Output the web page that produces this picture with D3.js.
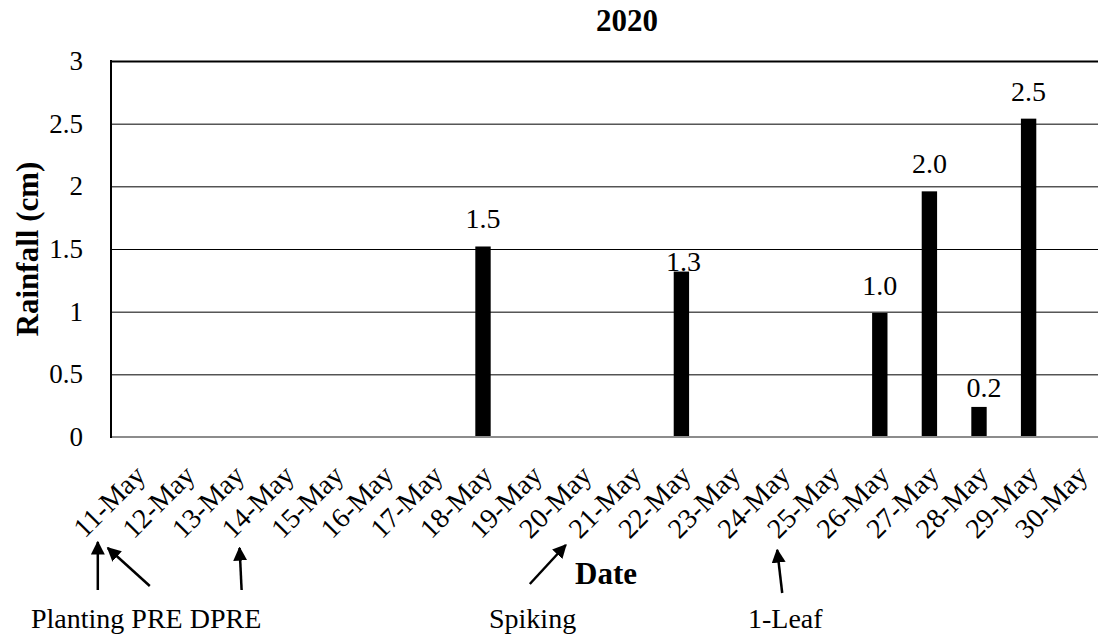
<!DOCTYPE html>
<html>
<head>
<meta charset="utf-8">
<script src="https://cdn.jsdelivr.net/npm/d3@7"></script>
<style>
  html, body { margin: 0; padding: 0; background: #fff; }
  svg { display: block; }
  svg text { font-family: "Liberation Serif", "Times New Roman", serif !important; fill: #000; }
</style>
</head>
<body>
<svg id="chart" width="1098" height="639"></svg>
<script>
// ---------- data ----------
const dates = ['11-May','12-May','13-May','14-May','15-May','16-May','17-May','18-May','19-May','20-May',
               '21-May','22-May','23-May','24-May','25-May','26-May','27-May','28-May','29-May','30-May'];
const rainfall = [0, 0, 0, 0, 0, 0, 0, 1.52, 0, 0,
                  0, 1.32, 0, 0, 0, 0.99, 1.96, 0.24, 2.54, 0];
const yTicks = [0, 0.5, 1, 1.5, 2, 2.5, 3];

const chartTitle = '2020';
const xTitle = 'Date';
const yTitle = 'Rainfall (cm)';

// growth stages marked under the date axis
const stageNames = ['Planting', 'PRE', 'DPRE', 'Spiking', '1-Leaf'];
const stageDates = ['11-May', '11-May', '14-May', '21-May', '25-May'];

// ---------- layout ----------
const W = 1098, H = 639;
const m = { left: 111, top: 61, bottom: 437, right: 1103 };

// hand-placed arrows (offset from tick centre), like the original drawing
const arrowLayout = [
  { tipDx: -38, tipY: 542, tailDx: -38, tailY: 590 },
  { tipDx: -28, tipY: 548, tailDx: 14,  tailY: 586 },
  { tipDx: -45, tipY: 548, tailDx: -43, tailY: 590 },
  { tipDx: -66, tipY: 545, tailDx: -102, tailY: 584 },
  { tipDx: -53, tipY: 550, tailDx: -48, tailY: 593 }
];
// label rows: which stages share a line of text, and where it starts
const labelRows = [
  { stages: [0, 1, 2], x: 31 },
  { stages: [3], x: 489 },
  { stages: [4], x: 748 }
];
// small nudges for data labels that were moved by hand
const labelNudge = { '22-May': { dx: 2, dy: -1 }, '28-May': { dx: 5, dy: -10 } };

const svg = d3.select('#chart');

const x = d3.scaleBand()
  .domain(dates)
  .range([m.left, m.right])
  .paddingInner(0.69)
  .paddingOuter(0.345);

const y = d3.scaleLinear()
  .domain([0, 3])
  .range([m.bottom, m.top]);

// ---------- grid ----------
const grid = svg.append('g')
  .attr('transform', `translate(${m.left},0)`)
  .call(d3.axisLeft(y).tickValues(yTicks.filter(v => v > 0)).tickSize(-(W - m.left)).tickFormat(''));
grid.select('.domain').remove();
grid.selectAll('.tick line')
  .attr('stroke', '#000')
  .attr('stroke-width', d => d === 3 ? 2 : 1);

// ---------- bars ----------
const data = dates.map((d, i) => ({ date: d, value: rainfall[i] }));
const rainy = data.filter(d => d.value > 0);

svg.append('g')
  .selectAll('rect')
  .data(rainy)
  .join('rect')
  .attr('x', d => x(d.date))
  .attr('y', d => y(d.value))
  .attr('width', x.bandwidth())
  .attr('height', d => y(0) - y(d.value))
  .attr('fill', '#000');

svg.append('g')
  .selectAll('text')
  .data(rainy)
  .join('text')
  .attr('x', d => x(d.date) + x.bandwidth() / 2 + (labelNudge[d.date] ? labelNudge[d.date].dx : 0))
  .attr('y', d => y(d.value) + (labelNudge[d.date] ? labelNudge[d.date].dy : -18))
  .attr('text-anchor', 'middle')
  .attr('font-size', 28)
  .text(d => d.value.toFixed(1));

// ---------- axes ----------
svg.append('line')
  .attr('x1', m.left).attr('x2', W)
  .attr('y1', y(0)).attr('y2', y(0))
  .attr('stroke', '#8c8c8c').attr('stroke-width', 2);

svg.append('line')
  .attr('x1', m.left).attr('x2', m.left)
  .attr('y1', m.top - 1).attr('y2', y(0) + 1)
  .attr('stroke', '#000').attr('stroke-width', 2);

const yAxis = svg.append('g')
  .attr('transform', `translate(${m.left},0)`)
  .call(d3.axisLeft(y).tickValues(yTicks).tickSize(0).tickPadding(28).tickFormat(d3.format('')));
yAxis.select('.domain').remove();
yAxis.selectAll('text')
  .attr('font-size', 27);

const xAxis = svg.append('g')
  .attr('transform', `translate(0,${m.bottom})`)
  .call(d3.axisBottom(x).tickSize(0));
xAxis.select('.domain').remove();
xAxis.selectAll('text')
  .attr('font-size', 28)
  .attr('x', 0).attr('y', 0).attr('dy', 0)
  .attr('text-anchor', 'end')
  .attr('transform', 'translate(11,40) rotate(-45)');

// ---------- titles ----------
svg.append('text')
  .attr('x', 627).attr('y', 31)
  .attr('text-anchor', 'middle')
  .attr('font-size', 31).attr('font-weight', 'bold')
  .text(chartTitle);

svg.append('text')
  .attr('x', 606).attr('y', 584)
  .attr('text-anchor', 'middle')
  .attr('font-size', 31).attr('font-weight', 'bold')
  .text(xTitle);

svg.append('text')
  .attr('transform', 'translate(38,249) rotate(-90)')
  .attr('text-anchor', 'middle')
  .attr('font-size', 31).attr('font-weight', 'bold')
  .text(yTitle);

// ---------- stage arrows ----------
svg.append('defs').append('marker')
  .attr('id', 'head')
  .attr('viewBox', '0 0 10 10')
  .attr('refX', 9).attr('refY', 5)
  .attr('markerUnits', 'userSpaceOnUse')
  .attr('markerWidth', 14).attr('markerHeight', 14)
  .attr('orient', 'auto')
  .append('path')
  .attr('d', 'M0,0 L10,5 L0,10 Z')
  .attr('fill', '#000');

const stages = stageNames.map((name, i) => ({ name, date: stageDates[i], ...arrowLayout[i] }));
const cx = d => x(d) + x.bandwidth() / 2;

svg.append('g')
  .selectAll('line')
  .data(stages)
  .join('line')
  .attr('x1', d => cx(d.date) + d.tailDx)
  .attr('y1', d => d.tailY)
  .attr('x2', d => cx(d.date) + d.tipDx)
  .attr('y2', d => d.tipY)
  .attr('stroke', '#000')
  .attr('stroke-width', 2.5)
  .attr('marker-end', 'url(#head)');

svg.append('g')
  .selectAll('text')
  .data(labelRows)
  .join('text')
  .attr('x', d => d.x)
  .attr('y', 628)
  .attr('font-size', 28)
  .text(d => d.stages.map(i => stageNames[i]).join(' '));
</script>
</body>
</html>
